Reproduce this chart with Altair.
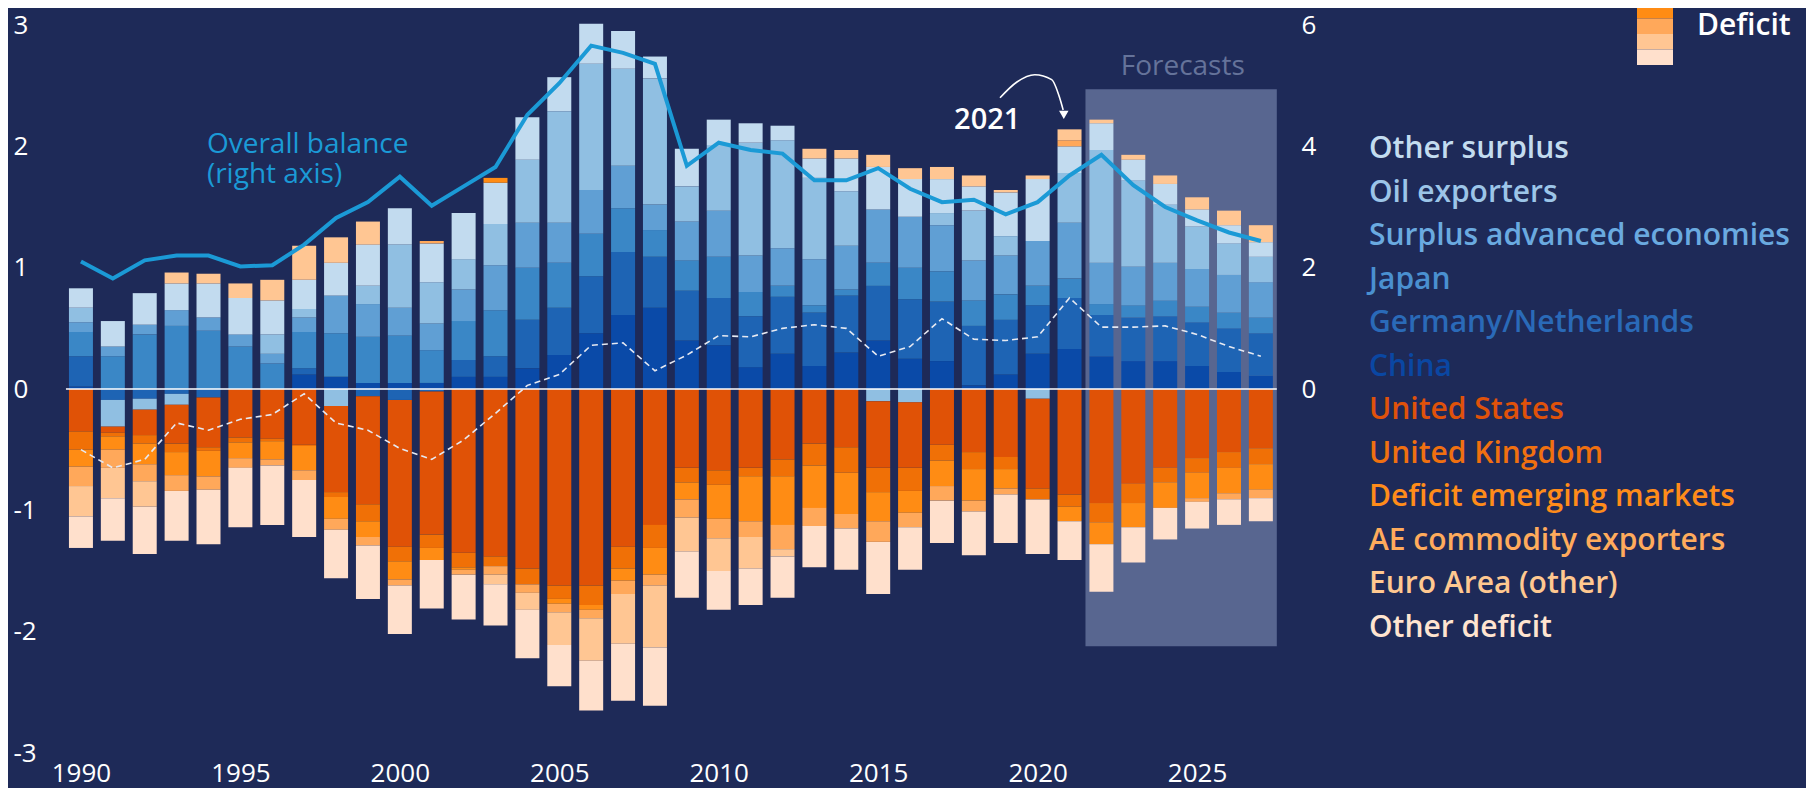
import altair as alt
import pandas as pd

years = list(range(1990, 2028))

series_names = ["China", "Germany/Netherlands", "Japan", "Surplus advanced economies",
                "Oil exporters", "Other surplus", "United States", "United Kingdom",
                "Deficit emerging markets", "AE commodity exporters", "Euro Area (other)",
                "Other deficit"]
series_colors = ["#0a4aa8", "#1e64b4", "#3a87c6", "#609fd4", "#90bfe2", "#c2dbef",
                 "#e05206", "#f07006", "#ff8c14", "#ffa85a", "#ffc693", "#ffe0cc"]
legend_colors = ["#0a47a3", "#2a6ab8", "#4a90d0", "#6aaae0", "#9cc5e8", "#c3dcef",
                 "#e0520a", "#f07010", "#ff8c1a", "#ffab5c", "#ffc890", "#ffe4d0"]

china = [0.02, 0, 0, 0, 0, 0, 0, 0.12, 0.10, 0.05, 0.05, 0.05, 0.10, 0.10, 0.17, 0.28, 0.46, 0.61, 0.67,
         0.40, 0.36, 0.18, 0.29, 0.19, 0.30, 0.40, 0.25, 0.23, 0.03, 0.12, 0.29, 0.33, 0.27, 0.23, 0.23,
         0.19, 0.14, 0.11]
germany = [0.25, -0.09, -0.08, -0.04, -0.07, 0, 0, 0.05, 0, -0.06, -0.09, -0.02, 0.14, 0.17, 0.40, 0.39,
           0.47, 0.52, 0.42, 0.41, 0.39, 0.42, 0.47, 0.44, 0.47, 0.45, 0.49, 0.49, 0.49, 0.45, 0.40, 0.42,
           0.34, 0.36, 0.37, 0.36, 0.36, 0.35]
japan = [0.20, 0.27, 0.45, 0.52, 0.48, 0.35, 0.21, 0.30, 0.36, 0.38, 0.39, 0.27, 0.32, 0.38, 0.43, 0.37,
         0.35, 0.36, 0.22, 0.25, 0.34, 0.20, 0.09, 0.06, 0.05, 0.19, 0.26, 0.25, 0.21, 0.21, 0.16, 0.16,
         0.09, 0.10, 0.13, 0.13, 0.13, 0.13]
surplus_ae = [0.08, 0.08, 0.08, 0.13, 0.11, 0.10, 0.08, 0.12, 0.31, 0.27, 0.23, 0.22, 0.26, 0.37, 0.37,
              0.33, 0.36, 0.35, 0.21, 0.32, 0.38, 0.30, 0.31, 0.38, 0.36, 0.44, 0.42, 0.38, 0.33, 0.32,
              0.37, 0.46, 0.34, 0.32, 0.31, 0.31, 0.31, 0.29]
oil = [0.12, -0.22, -0.09, -0.09, 0, 0, 0.16, 0.07, -0.14, 0.15, 0.52, 0.34, 0.25, 0.34, 0.52, 0.92,
       1.04, 0.80, 1.04, 0.29, 0.54, 0.93, 0.89, 0.67, 0.45, -0.10, -0.11, 0.10, 0.41, 0.16, -0.08, 0.41,
       0.93, 0.71, 0.48, 0.35, 0.26, 0.21]
other_surplus = [0.16, 0.21, 0.26, 0.22, 0.28, 0.30, 0.28, 0.24, 0.27, 0.34, 0.30, 0.32, 0.38, 0.34, 0.35,
                 0.28, 0.33, 0.31, 0.18, 0.31, 0.21, 0.16, 0.12, 0.16, 0.27, 0.35, 0.31, 0.28, 0.20, 0.36,
                 0.51, 0.22, 0.22, 0.17, 0.17, 0.14, 0.15, 0.12]
united_states = [-0.35, -0.05, -0.21, -0.32, -0.41, -0.40, -0.41, -0.46, -0.71, -0.89, -1.21, -1.18, -1.35,
                 -1.38, -1.48, -1.62, -1.62, -1.30, -1.12, -0.65, -0.67, -0.65, -0.58, -0.45, -0.48, -0.55,
                 -0.54, -0.46, -0.52, -0.56, -0.74, -0.87, -0.94, -0.78, -0.65, -0.57, -0.52, -0.49]
united_kingdom = [-0.15, -0.03, -0.07, -0.07, -0.03, -0.04, -0.02, -0.01, -0.04, -0.14, -0.12, -0.11, -0.12,
                  -0.08, -0.13, -0.11, -0.16, -0.18, -0.19, -0.12, -0.12, -0.07, -0.14, -0.18, -0.21, -0.20,
                  -0.19, -0.13, -0.14, -0.10, -0.09, -0.10, -0.16, -0.16, -0.12, -0.12, -0.13, -0.13]
deficit_em = [-0.14, -0.11, -0.17, -0.19, -0.21, -0.13, -0.15, -0.20, -0.18, -0.13, -0.15, -0.10, -0.02,
              0.04, 0, -0.04, -0.04, -0.10, -0.22, -0.14, -0.28, -0.37, -0.40, -0.35, -0.34, -0.24, -0.18,
              -0.21, -0.26, -0.16, 0, -0.12, -0.18, -0.20, -0.21, -0.21, -0.21, -0.21]
ae_commodity = [-0.16, -0.15, -0.14, -0.13, -0.11, -0.08, -0.05, -0.08, -0.09, -0.07, -0.05, 0.02, -0.04,
                -0.07, -0.07, -0.07, -0.07, -0.11, -0.09, -0.15, -0.16, -0.13, -0.20, -0.15, -0.12, -0.17,
                -0.12, -0.12, -0.09, -0.05, 0, 0.05, 0, 0, 0, -0.03, -0.05, -0.07]
euro_other = [-0.25, -0.25, -0.21, 0.09, 0.08, 0.12, 0.17, 0.28, 0.21, 0.19, 0, 0, 0, -0.08, -0.14, -0.27,
              -0.35, -0.41, -0.51, -0.28, -0.27, -0.26, -0.06, 0.08, 0.07, 0.10, 0.09, 0.10, 0.09, 0.02,
              0.03, 0.09, 0.03, 0.04, 0.07, 0.10, 0.12, 0.14]
other_deficit = [-0.26, -0.35, -0.39, -0.41, -0.45, -0.49, -0.49, -0.47, -0.40, -0.44, -0.40, -0.40, -0.37,
                 -0.34, -0.40, -0.34, -0.41, -0.47, -0.48, -0.38, -0.32, -0.30, -0.34, -0.34, -0.34, -0.43,
                 -0.35, -0.35, -0.36, -0.40, -0.45, -0.32, -0.39, -0.29, -0.26, -0.22, -0.21, -0.19]

# Overall balance (right axis)
overall_balance = [2.10, 1.82, 2.12, 2.20, 2.20, 2.02, 2.04, 2.38, 2.82, 3.08, 3.50, 3.02, 3.34, 3.66, 4.52,
                   5.04, 5.66, 5.54, 5.36, 3.68, 4.06, 3.94, 3.88, 3.44, 3.44, 3.64, 3.30, 3.08, 3.12, 2.88,
                   3.08, 3.52, 3.86, 3.36, 3.00, 2.78, 2.58, 2.44]
# dashed line (left axis)
dashed_series = [-0.50, -0.65, -0.58, -0.28, -0.34, -0.25, -0.21, -0.04, -0.28, -0.34, -0.49, -0.58, -0.42,
                 -0.20, 0.03, 0.12, 0.36, 0.38, 0.15, 0.28, 0.44, 0.43, 0.50, 0.53, 0.50, 0.27, 0.35, 0.58,
                 0.41, 0.40, 0.43, 0.75, 0.51, 0.51, 0.52, 0.45, 0.35, 0.27]

x_ticks = [1990, 1995, 2000, 2005, 2010, 2015, 2020, 2025]
left_ticks = [-3, -2, -1, 0, 1, 2, 3]
right_ticks = [0, 2, 4, 6]

BG = "#1e2a58"
FONT = "Open Sans"

all_series = [china, germany, japan, surplus_ae, oil, other_surplus, united_states, united_kingdom,
              deficit_em, ae_commodity, euro_other, other_deficit]
rows = []
for i, (name, vals) in enumerate(zip(series_names, all_series)):
    for y, v in zip(years, vals):
        rows.append({"year": y, "series": name, "value": v, "ord": i})
df = pd.DataFrame(rows)

lines_df = pd.DataFrame({"year": years, "bal": overall_balance, "dash": dashed_series})

xscale = alt.Scale(domain=[1989.5, 2027.6], nice=False, zero=False)
yscale = alt.Scale(domain=[-3, 3], nice=False, zero=False)

x_axis = alt.Axis(values=x_ticks, labelExpr="'' + datum.value", ticks=False, tickSize=0, domain=False,
                  grid=False, title=None, labelFontSize=26, labelColor="white", labelFont=FONT,
                  labelFontWeight=500, labelPadding=7, labelFlush=False)
y_axis = alt.Axis(values=left_ticks, labelExpr="'' + datum.value", ticks=False, tickSize=0, domain=False,
                  grid=False, title=None, labelFontSize=26, labelColor="white", labelFont=FONT,
                  labelFontWeight=500, labelAlign="left", labelPadding=47, labelBaseline="middle")


def X(field):
    return alt.X(field, scale=xscale, axis=x_axis)


def Y(field):
    return alt.Y(field, scale=yscale, axis=y_axis)


# forecast box
box_df = pd.DataFrame({"x0": [2021.5], "x1": [2027.5], "y0": [2.47], "y1": [-2.12]})
box = alt.Chart(box_df).mark_rect(color="#586690").encode(
    x=X("x0:Q"), x2="x1:Q", y=Y("y0:Q"), y2="y1:Q")

bars = alt.Chart(df).mark_bar(size=24).encode(
    x=X("year:Q"),
    y=alt.Y("value:Q", stack="zero", scale=yscale, axis=y_axis),
    color=alt.Color("series:N", scale=alt.Scale(domain=series_names, range=series_colors), legend=None),
    order=alt.Order("ord:Q", sort="ascending"),
)

zero_df = pd.DataFrame({"x0": [1989.53], "x1": [2027.5], "y0": [0]})
zero = alt.Chart(zero_df).mark_rule(color="white", strokeWidth=1.5).encode(
    x=X("x0:Q"), x2="x1:Q", y=Y("y0:Q"))

dashed = alt.Chart(lines_df).mark_line(color="#e6e9f2", strokeWidth=1.6, strokeDash=[6, 4]).encode(
    x=X("year:Q"), y=Y("dash:Q"))

# annotation texts
ann_df = pd.DataFrame({
    "x": [1993.95, 1993.95, 2018.42, 2024.55],
    "y": [2.01, 1.76, 2.22, 2.65],
    "t": ["Overall balance", "(right axis)", "2021", "Forecasts"],
})
ann_left = alt.Chart(ann_df.iloc[0:2]).mark_text(align="left", baseline="middle", fontSize=28,
                                                 font=FONT, color="#1b9ad6").encode(
    x=X("x:Q"), y=Y("y:Q"), text="t:N")
ann_2021 = alt.Chart(ann_df.iloc[2:3]).mark_text(align="center", baseline="middle", fontSize=29,
                                                 font=FONT, fontWeight=600, color="white").encode(
    x=X("x:Q"), y=Y("y:Q"), text="t:N")
ann_fc = alt.Chart(ann_df.iloc[3:4]).mark_text(align="center", baseline="middle", fontSize=28,
                                               font=FONT, color="#65739a").encode(
    x=X("x:Q"), y=Y("y:Q"), text="t:N")

# curved arrow for the 2021 annotation
arrow_df = pd.DataFrame({"x": [2018.82, 2019.35, 2019.91, 2020.44, 2020.69, 2020.80],
                         "y": [2.40, 2.53, 2.59, 2.55, 2.40, 2.30], "k": [0, 1, 2, 3, 4, 5]})
arrow = alt.Chart(arrow_df).mark_line(color="white", strokeWidth=1.6, interpolate="monotone").encode(
    x=X("x:Q"), y=Y("y:Q"), order="k:Q")
head_df = pd.DataFrame({"x": [2020.82], "y": [2.26]})
arrow_head = alt.Chart(head_df).mark_point(shape="triangle-down", filled=True, color="white", size=90,
                                           opacity=1).encode(x=X("x:Q"), y=Y("y:Q"))

# legend (texts)
legend_order = list(range(5, -1, -1)) + list(range(6, 12))
leg_df = pd.DataFrame({
    "label": [series_names[i] for i in legend_order],
    "col": [legend_colors[i] for i in legend_order],
    "py": [124 + 43.5 * k for k in range(12)],
})
legend_text = alt.Chart(leg_df).mark_text(align="left", baseline="middle", fontSize=30, font=FONT,
                                          fontWeight=600).encode(
    x=alt.value(1309), y=alt.Y("py:Q", scale=None), text="label:N",
    color=alt.Color("col:N", scale=None))

# deficit swatch
sw_df = pd.DataFrame({
    "c": series_colors[6:12],
    "y0": [-53, -37.5, -22, -6.5, 9, 24.5],
    "y1": [-37.5, -22, -6.5, 9, 24.5, 40],
})
swatch = alt.Chart(sw_df).mark_rect().encode(
    x=alt.value(1577), x2=alt.value(1613), y=alt.Y("y0:Q", scale=None), y2="y1:Q",
    color=alt.Color("c:N", scale=None))
deficit_label = alt.Chart(pd.DataFrame({"t": ["Deficit"]})).mark_text(
    align="left", baseline="middle", fontSize=30, font=FONT, fontWeight=600, color="white").encode(
    x=alt.value(1637), y=alt.value(1), text="t:N")

inner = alt.layer(box, bars, zero, dashed, arrow, arrow_head, ann_left, ann_2021, ann_fc,
                  legend_text, swatch, deficit_label)

balance = alt.Chart(lines_df).mark_line(color="#1b9ad6", strokeWidth=4).encode(
    x=X("year:Q"),
    y=alt.Y("bal:Q", scale=alt.Scale(domain=[-6, 6], nice=False, zero=False),
            axis=alt.Axis(orient="right", values=right_ticks, labelExpr="'' + datum.value", ticks=False,
                          tickSize=0, domain=False, grid=False, title=None, labelFontSize=26,
                          labelColor="white", labelFont=FONT, labelFontWeight=500, labelAlign="left",
                          labelPadding=16, labelBaseline="middle")))

chart = alt.layer(inner, balance).resolve_scale(y="independent").properties(
    width=1225, height=728,
    padding={"left": 52, "top": 17, "right": 521, "bottom": 35},
    autosize=alt.AutoSizeParams(type="none"),
    background=BG,
).configure_view(strokeWidth=0)

chart.save("out.html", embed_options={"renderer": "svg", "actions": False})
